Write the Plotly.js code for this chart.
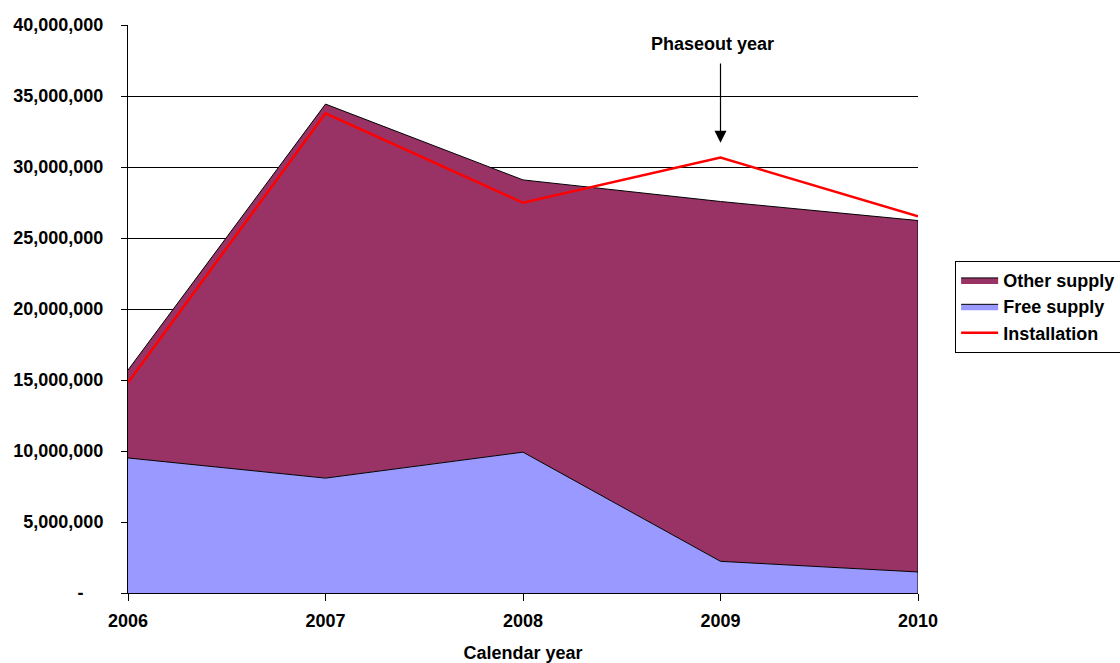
<!DOCTYPE html>
<html>
<head>
<meta charset="utf-8">
<script src="https://cdn.plot.ly/plotly-3.0.1.min.js"></script>
<style>
  html, body { margin: 0; padding: 0; background: #fff; }
  #chart { width: 1120px; height: 663px; }
</style>
</head>
<body>
<div id="chart"></div>
<script>
// Supply and installation by calendar year
const years = [2006, 2007, 2008, 2009, 2010];
const freeSupply = [9510000, 8090000, 9920000, 2230000, 1480000];
const otherSupply = [6190000, 26340000, 19170000, 25340000, 24750000];
const installation = [14820000, 33780000, 27480000, 30660000, 26530000];
const yTickVals = [0, 5000000, 10000000, 15000000, 20000000, 25000000, 30000000, 35000000, 40000000];
// accounting-style zero: a dash padded on the right
const yTickText = ['-\u00a0\u00a0\u00a0\u00a0', '5,000,000', '10,000,000', '15,000,000', '20,000,000', '25,000,000', '30,000,000', '35,000,000', '40,000,000'];
const phaseoutYear = 2009;

const FONT = { family: 'Liberation Sans, Arial, sans-serif', size: 18, color: '#000', weight: 700 };

// total stacked height, used for the closing edge of the area at the last year
const lastIdx = years.length - 1;
const totalLast = freeSupply[lastIdx] + otherSupply[lastIdx];

const traces = [
  {
    name: 'Free supply', x: years, y: freeSupply, type: 'scatter', mode: 'lines',
    stackgroup: 'supply', fillcolor: '#9999FF',
    line: { color: '#000', width: 1 }, legendrank: 2
  },
  {
    name: 'Other supply', x: years, y: otherSupply, type: 'scatter', mode: 'lines',
    stackgroup: 'supply', fillcolor: '#993366',
    line: { color: '#000', width: 1 }, legendrank: 1
  },
  {
    name: 'edge', x: [years[lastIdx], years[lastIdx]], y: [0, totalLast],
    type: 'scatter', mode: 'lines', line: { color: '#000', width: 1 },
    showlegend: false
  },
  {
    name: 'Installation', x: years, y: installation, type: 'scatter', mode: 'lines',
    line: { color: '#FF0000', width: 2.5 }, legendrank: 3
  }
];

const layout = {
  width: 1120, height: 663,
  margin: { l: 128, r: 202, t: 25, b: 70, autoexpand: false },
  paper_bgcolor: '#fff', plot_bgcolor: '#fff',
  font: FONT,
  showlegend: true,
  hovermode: false,
  xaxis: {
    range: [years[0], years[lastIdx]],
    tickvals: years, ticktext: years.map(String),
    ticks: 'outside', ticklen: 7, tickcolor: '#000', tickwidth: 1,
    showgrid: false, zeroline: false,
    showline: true, linecolor: '#000', linewidth: 1,
    tickfont: FONT, ticklabelstandoff: 4,
    title: { text: 'Calendar year', font: FONT, standoff: 23 }
  },
  yaxis: {
    range: [0, 40000000],
    tickvals: yTickVals, ticktext: yTickText,
    ticks: 'outside', ticklen: 6, tickcolor: '#000', tickwidth: 1,
    showgrid: true, gridcolor: '#000', gridwidth: 1,
    zeroline: false,
    showline: true, linecolor: '#000', linewidth: 1,
    tickfont: FONT, ticklabelstandoff: 14
  },
  legend: {
    x: 1.047, xanchor: 'left', y: 0.585, yanchor: 'top',
    bordercolor: '#000', borderwidth: 1, bgcolor: '#fff',
    font: FONT,
    traceorder: 'normal', tracegroupgap: 0, itemwidth: 37
  },
  annotations: [
    {
      x: phaseoutYear, y: 31700000, xref: 'x', yref: 'y',
      ax: phaseoutYear, ay: 37400000, axref: 'x', ayref: 'y',
      showarrow: true, arrowhead: 2, arrowsize: 2, arrowwidth: 1.2,
      arrowcolor: '#000', text: ''
    },
    {
      x: phaseoutYear, y: 38650000, xref: 'x', yref: 'y',
      text: 'Phaseout year', showarrow: false, xshift: -8,
      font: FONT
    }
  ]
};

Plotly.newPlot('chart', traces, layout, { staticPlot: true, displayModeBar: false });
</script>
</body>
</html>
